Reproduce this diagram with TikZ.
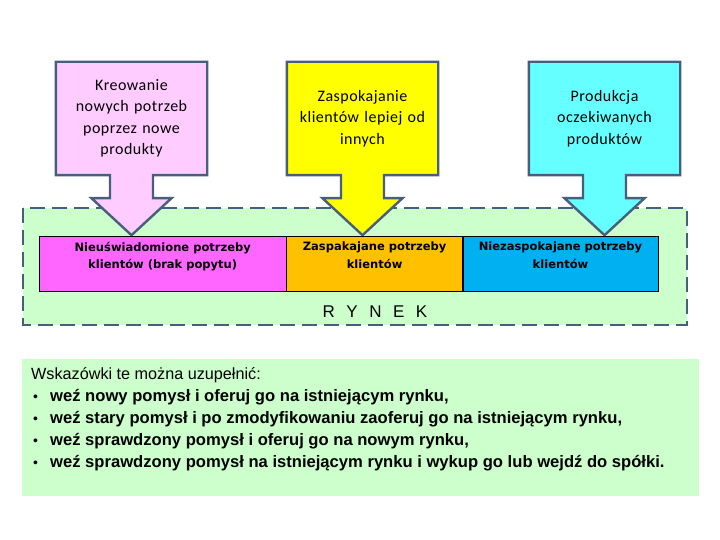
\documentclass[tikz,border=0pt]{standalone}
\usepackage{fontspec}
\setmainfont{Liberation Sans}
\newfontfamily\calloutfont[LetterSpace=3]{Carlito}
\newfontfamily\boxfont{DejaVu Sans}
\newfontfamily\rynekfont[LetterSpace=40]{Liberation Sans}
\usepackage{tikz}
\usetikzlibrary{calc,positioning}
\pgfdeclarelayer{background}
\pgfsetlayers{background,main}
\definecolor{edge}{HTML}{475E7C}
\definecolor{rynekbg}{HTML}{CCFFCC}
\definecolor{pinklight}{HTML}{FFCCFF}
\definecolor{pinkdark}{HTML}{FF66FF}
\definecolor{yellowcall}{HTML}{FFFF00}
\definecolor{orangebox}{HTML}{FFC000}
\definecolor{cyancall}{HTML}{66FFFF}
\definecolor{bluebox}{HTML}{00B0F0}
\newcommand{\hintitem}[1]{\makebox[19pt][l]{\hspace{2pt}\fontsize{14pt}{22pt}\selectfont•}{\fontsize{16.6pt}{22pt}\selectfont\textbf{#1}}}
\tikzset{
    callout/.style={
        rectangle,
        minimum width=151pt,
        minimum height=113pt,
        text width=140pt,
        align=center,
        inner sep=0pt,
        font={\calloutfont\fontsize{16pt}{21.5pt}\selectfont}
    },
    calloutline/.style={draw=edge, line width=2.4pt, line join=miter},
    market/.style={
        rectangle,
        draw=black, thin,
        minimum height=55pt,
        inner sep=0pt
    },
    markettext/.style={
        align=center,
        inner sep=0pt,
        font={\boxfont\bfseries\fontsize{11.5pt}{17.5pt}\selectfont}
    },
}

\begin{document}
\begin{tikzpicture}[x=1pt, y=-1pt]
    \useasboundingbox (0,0) rectangle (720,540);
    % rynek background
    \begin{pgfonlayer}{background}
    \draw[edge, line width=2.6pt, dash pattern=on 15pt off 7pt, fill=rynekbg]
        (23,208) rectangle (687,325);
    \end{pgfonlayer}
    % market segments
    \node[market, fill=pinkdark, anchor=north west, minimum width=247pt] (nieusw) at (39,236) {};
    \node[market, fill=orangebox, anchor=north west, minimum width=176pt] (zaspak) at (nieusw.north east) {};
    \node[market, fill=bluebox, anchor=north west, minimum width=195pt] (niezasp) at (zaspak.north east) {};
    \node[markettext, below=6pt of nieusw.north] {Nieuświadomione potrzeby\\klientów (brak popytu)};
    \node[markettext, below=6pt of zaspak.north] {Zaspakajane potrzeby\\klientów};
    \node[markettext, below=6pt of niezasp.north] {Niezaspokajane potrzeby\\klientów};
    \node[font={\rynekfont\fontsize{17pt}{20pt}\selectfont}] (rynek) at (375,312) {R Y N E K};
    % callouts
    \node[callout] (kreow) at (131.5,118.5) {Kreowanie\\nowych potrzeb\\poprzez nowe\\produkty};
    \node[callout] (zaspok) at (362.5,118.5) {Zaspokajanie\\klientów lepiej od\\innych};
    \node[callout] (produk) at (604.5,118.5) {Produkcja\\oczekiwanych\\produktów};
    \begin{pgfonlayer}{background}
    \foreach \c/\col in {kreow/pinklight, zaspok/yellowcall, produk/cyancall}{
        \draw[calloutline, fill=\col]
            (\c.north west) -- (\c.north east) -- (\c.south east)
            -- ($(\c.south)+(21.5,0)$) -- ($(\c.south)+(21.5,23)$)
            -- ($(\c.south)+(40,23)$) -- ($(\c.south)+(0,60)$)
            -- ($(\c.south)+(-40,23)$) -- ($(\c.south)+(-21.5,23)$)
            -- ($(\c.south)+(-21.5,0)$) -- (\c.south west) -- cycle;
    }
    \end{pgfonlayer}
    % hints
    \fill[rynekbg] (22,359) rectangle (699,496);
    \node[anchor=north west, align=left, inner sep=0pt,
        font={\fontsize{16.2pt}{22pt}\selectfont}] (hints) at (31,367)
        {Wskazówki te można uzupełnić:\\
         \hintitem{weź nowy pomysł i oferuj go na istniejącym rynku,}\\
         \hintitem{weź stary pomysł i po zmodyfikowaniu zaoferuj go na istniejącym rynku,}\\
         \hintitem{weź sprawdzony pomysł i oferuj go na nowym rynku,}\\
         \hintitem{weź sprawdzony pomysł na istniejącym rynku i wykup go lub wejdź do spółki.}};
\end{tikzpicture}
\end{document}
